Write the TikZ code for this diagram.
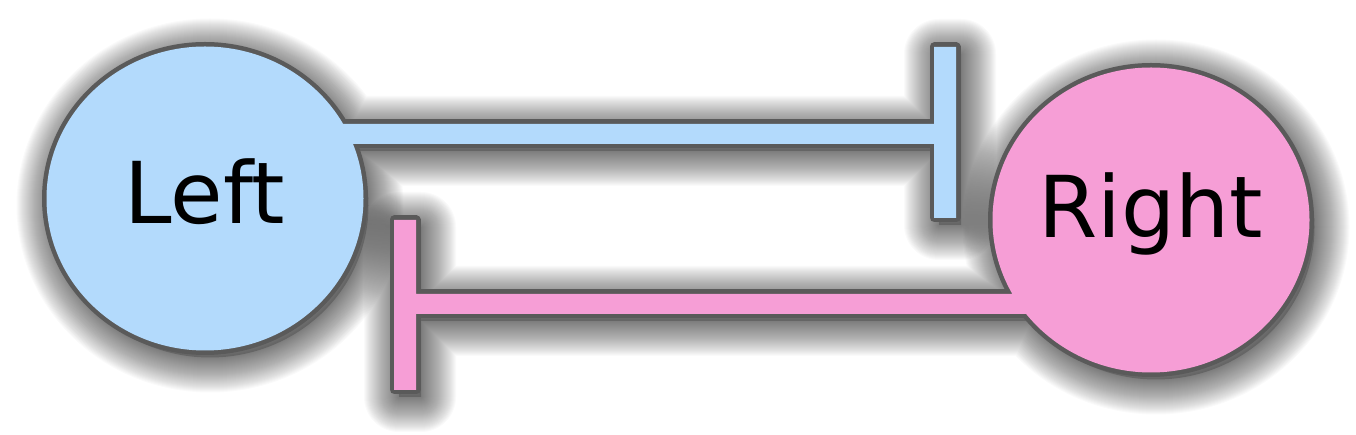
\documentclass[tikz,border=0pt]{standalone}
\usepackage{fontspec}
\setmainfont{DejaVu Sans}
\definecolor{leftblue}{RGB}{179,218,252}
\definecolor{rightpink}{RGB}{246,158,214}
\definecolor{rim}{RGB}{90,90,90}
\tikzset{
  haze/.style={draw=black,opacity=0.019,line join=round},
  rimline/.style={draw=rim,line width=6.75pt,line join=round},
  nodetext/.style={font=\fontsize{64}{76}\selectfont,inner sep=0pt}
}
\newcommand{\leftside}{(205,236.5) ellipse [x radius=158.5,y radius=152]
    (300,291) -- (934,291) -- (934,217) -- (956,217) -- (956,388) -- (934,388) -- (934,311) -- (300,311) -- cycle}
\newcommand{\rightside}{(1151,215) ellipse [x radius=158.5,y radius=152.5]
    (1100,121) -- (1100,141) -- (416,141) -- (416,215) -- (394,215) -- (394,45) -- (416,45) -- (416,121) -- cycle}
\begin{document}
\begin{tikzpicture}[x=0.75pt,y=0.75pt]
    \useasboundingbox (0,0) rectangle (1356,435);
    %soft shadows: strokes of shrinking width, shifted down right
    \begin{scope}[shift={(5,-7)}]
        \foreach \w in {70,68,...,2} {
            \draw[haze,line width=\w*0.75pt] \leftside;
            \draw[haze,line width=\w*0.75pt] \rightside;
        }
        \fill[black,opacity=0.2] \leftside;
        \fill[black,opacity=0.2] \rightside;
    \end{scope}
    %left side: rim, then fill over it
    \draw[rimline] (205,236.5) ellipse [x radius=158.5,y radius=152];
    \draw[rimline] (300,291) -- (934,291) -- (934,217) -- (956,217) -- (956,388) -- (934,388) -- (934,311) -- (300,311) -- cycle;
    \fill[leftblue] \leftside;
    %right side
    \draw[rimline] (1151,215) ellipse [x radius=158.5,y radius=152.5];
    \draw[rimline] (1100,121) -- (1100,141) -- (416,141) -- (416,215) -- (394,215) -- (394,45) -- (416,45) -- (416,121) -- cycle;
    \fill[rightpink] \rightside;
    \node[nodetext] (left) at (205,243) {Left};
    \node[nodetext] (right) at (1151,221) {Right};
\end{tikzpicture}
\end{document}
